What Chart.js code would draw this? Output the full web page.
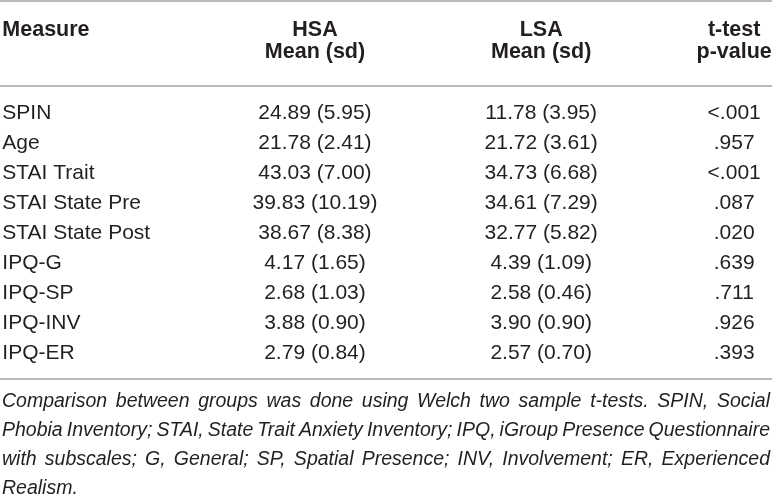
<!DOCTYPE html>
<html lang="en">
  <head>
    <meta charset="UTF-8" />
    <title>Group comparison</title>
    <style>
      html, body { margin: 0; padding: 0; background: #fff; }
      #wrap { width: 772px; height: 495px; position: relative; }
    </style>
  </head>
  <body>
    <div id="wrap"><canvas id="table-chart"></canvas></div>

    <script src="https://cdn.jsdelivr.net/npm/chart.js"></script>
    <script>
      // table content
      const measures = [
        "SPIN", "Age", "STAI Trait", "STAI State Pre", "STAI State Post",
        "IPQ-G", "IPQ-SP", "IPQ-INV", "IPQ-ER",
      ];
      const hsaMean = ["24.89", "21.78", "43.03", "39.83", "38.67", "4.17", "2.68", "3.88", "2.79"];
      const hsaSd = ["5.95", "2.41", "7.00", "10.19", "8.38", "1.65", "1.03", "0.90", "0.84"];
      const lsaMean = ["11.78", "21.72", "34.73", "34.61", "32.77", "4.39", "2.58", "3.90", "2.57"];
      const lsaSd = ["3.95", "3.61", "6.68", "7.29", "5.82", "1.09", "0.46", "0.90", "0.70"];
      const pValues = ["<.001", ".957", "<.001", ".087", ".020", ".639", ".711", ".926", ".393"];
      const headerTop = ["Measure", "HSA", "LSA", "t-test"];
      const headerBottom = ["", "Mean (sd)", "Mean (sd)", "p-value"];
      const footnoteLines = [
        "Comparison between groups was done using Welch two sample t-tests. SPIN, Social",
        "Phobia Inventory; STAI, State Trait Anxiety Inventory; IPQ, iGroup Presence Questionnaire",
        "with subscales; G, General; SP, Spatial Presence; INV, Involvement; ER, Experienced",
        "Realism.",
      ];

      // layout (x in percent of width)
      const colAnchor = [0.3, 40.8, 70.1, 95.1];
      const colAlign = ["left", "center", "center", "center"];
      const ink = "#231f20";
      const ruleColor = "#a3a3a3";
      const FONT = "'Liberation Sans', Arial, Helvetica, sans-serif";

      const tablePlugin = {
        id: "tableText",
        afterDraw(chart) {
          const ctx = chart.ctx;
          const xs = chart.scales.x;
          const ys = chart.scales.y;
          const area = chart.chartArea;
          const W = chart.width;

          function rule(y) {
            ctx.save();
            ctx.strokeStyle = ruleColor;
            ctx.lineWidth = 1.5;
            ctx.beginPath();
            ctx.moveTo(0, y);
            ctx.lineTo(W, y);
            ctx.stroke();
            ctx.restore();
          }

          ctx.save();
          ctx.fillStyle = ink;
          ctx.textBaseline = "middle";

          // header
          ctx.font = "bold 21.5px " + FONT;
          headerTop.forEach((t, i) => {
            ctx.textAlign = colAlign[i];
            ctx.fillText(t, xs.getPixelForValue(colAnchor[i]), area.top - 68);
          });
          headerBottom.forEach((t, i) => {
            if (!t) return;
            ctx.textAlign = colAlign[i];
            ctx.fillText(t, xs.getPixelForValue(colAnchor[i]), area.top - 46);
          });

          // body rows
          ctx.font = "21px " + FONT;
          measures.forEach((m, r) => {
            const y = ys.getPixelForValue(r);
            const cells = [
              m,
              hsaMean[r] + " (" + hsaSd[r] + ")",
              lsaMean[r] + " (" + lsaSd[r] + ")",
              pValues[r],
            ];
            cells.forEach((t, i) => {
              ctx.textAlign = colAlign[i];
              ctx.fillText(t, xs.getPixelForValue(colAnchor[i]), y);
            });
          });

          // footnote, justified
          ctx.font = "italic 19.5px " + FONT;
          ctx.textAlign = "left";
          const left = 2, right = W - 2;
          footnoteLines.forEach((line, k) => {
            const y = area.bottom + 34 + k * 28.7;
            const words = line.split(" ");
            const last = k === footnoteLines.length - 1;
            const wsum = words.reduce((s, w) => s + ctx.measureText(w).width, 0);
            const gap = last
              ? ctx.measureText(" ").width
              : (right - left - wsum) / (words.length - 1);
            let x = left;
            words.forEach((w) => {
              ctx.fillText(w, x, y);
              x += ctx.measureText(w).width + gap;
            });
          });
          ctx.restore();

          rule(1);
          rule(area.top - 12);
          rule(area.bottom + 11);
        },
      };

      const chart = new Chart(document.getElementById("table-chart"), {
        type: "scatter",
        data: { labels: measures, datasets: [] },
        options: {
          responsive: true,
          maintainAspectRatio: false,
          animation: false,
          layout: { padding: { top: 98, bottom: 127, left: 0, right: 0 } },
          plugins: { legend: { display: false }, tooltip: { enabled: false } },
          scales: {
            x: { type: "linear", min: 0, max: 100, display: false },
            y: { type: "category", labels: measures, offset: true, display: false },
          },
        },
        plugins: [tablePlugin],
      });
    </script>
  </body>
</html>
